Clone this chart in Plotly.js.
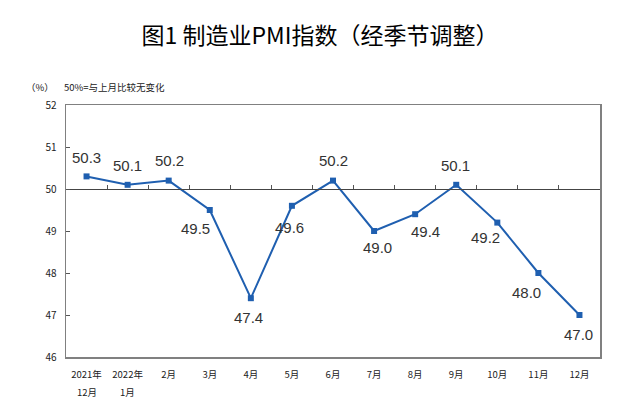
<!DOCTYPE html>
<html><head><meta charset="utf-8">
<script src="https://cdn.plot.ly/plotly-3.0.1.min.js"></script>
<style>html,body{margin:0;padding:0;background:#fff;}#chart{width:640px;height:413px;}</style>
</head><body><div id="chart"></div>
<script>
const categories = ["2021年","2022年","2月","3月","4月","5月","6月","7月","8月","9月","10月","11月","12月"];
const categorySubLabels = ["12月","1月","","","","","","","","","","",""];
const pmiValues = [50.3, 50.1, 50.2, 49.5, 47.4, 49.6, 50.2, 49.0, 49.4, 50.1, 49.2, 48.0, 47.0];
const yTicks = [46, 47, 48, 49, 50, 51, 52];
// label pixel offsets (style only)
const labelShiftX = [0, 0, 1, -14, -2, -2, 0, 3, 10, -1, -12, -12, -1];
const labelShiftY = [19, 19, 20, -18, -19, -22, 20, -16, -17, 19, -15, -19, -19];

const xIdx = categories.map((_, i) => i);
const lineColor = '#1f5fb0';
const tickFont = {family: 'Noto Sans CJK SC', size: 9.5, color: '#222'};
const trace = {
  x: xIdx, y: pmiValues, type: 'scatter', mode: 'lines+markers',
  line: {color: lineColor, width: 2},
  marker: {symbol: 'square', size: 6, color: lineColor},
  cliponaxis: false, hoverinfo: 'skip'
};
const labelAnns = pmiValues.map((v, i) => ({
  x: i, y: v, xref: 'x', yref: 'y', text: v.toFixed(1), showarrow: false,
  xshift: labelShiftX[i], yshift: labelShiftY[i], xanchor: 'center', yanchor: 'middle',
  font: {family: 'Liberation Sans, Arial, sans-serif', size: 15, color: '#333'}
}));
const subAnns = categorySubLabels.map((t, i) => ({t, i})).filter(o => o.t).map(o => ({
  x: o.i, y: 0, xref: 'x', yref: 'paper', text: o.t, showarrow: false,
  xanchor: 'center', yanchor: 'middle', yshift: -35, font: tickFont
}));
const layout = {
  width: 640, height: 413,
  margin: {l: 66, r: 40, t: 105, b: 56},
  paper_bgcolor: '#fff', plot_bgcolor: '#fff',
  showlegend: false,
  title: {text: '图1 制造业PMI指数（经季节调整）', x: 0.5, xanchor: 'center', y: 0.913, yanchor: 'middle',
    font: {family: 'Noto Sans CJK SC', size: 23, color: '#000', weight: 'normal'}},
  xaxis: {
    range: [-0.5, categories.length - 0.5], tickmode: 'array', tickvals: xIdx, ticktext: categories,
    showgrid: false, zeroline: false, showline: true, mirror: true, linecolor: '#808080', linewidth: 1.5,
    ticks: '', ticklabelstandoff: 8, tickfont: tickFont, fixedrange: true
  },
  xaxis2: {
    overlaying: 'x', anchor: 'free', position: (50 - 46) / (52 - 46), side: 'top',
    range: [-0.5, categories.length - 0.5], tickmode: 'array',
    tickvals: xIdx.slice(0, -1).map(i => i + 0.5), showticklabels: false,
    ticks: 'outside', ticklen: 4, tickcolor: '#555', tickwidth: 1,
    showline: true, linecolor: '#444', linewidth: 1, showgrid: false, zeroline: false
  },
  yaxis: {
    range: [46, 52], tickmode: 'array', tickvals: yTicks,
    showgrid: false, zeroline: false, showline: true, mirror: true, linecolor: '#808080', linewidth: 1.5,
    ticks: 'inside', ticklen: 4, tickcolor: '#555', ticklabelstandoff: 6,
    tickfont: {family: 'Noto Sans CJK SC', size: 10, color: '#222'}, fixedrange: true
  },
  annotations: [
    {text: '（%）', xref: 'paper', yref: 'paper', x: -0.048, y: 1.07, xanchor: 'center', yanchor: 'middle', showarrow: false,
     font: {family: 'Noto Sans CJK SC', size: 9.5, color: '#222'}},
    {text: '50%=与上月比较无变化', xref: 'paper', yref: 'paper', x: -0.008, y: 1.07, xanchor: 'left', yanchor: 'middle', showarrow: false,
     font: {family: 'Noto Sans CJK SC', size: 9.5, color: '#222'}}
  ].concat(labelAnns, subAnns)
};
const trace2 = {x: [0], y: [50], xaxis: 'x2', yaxis: 'y', mode: 'markers', marker: {opacity: 0}, hoverinfo: 'skip'};
Plotly.newPlot('chart', [trace2, trace], layout, {staticPlot: true});
</script></body></html>
